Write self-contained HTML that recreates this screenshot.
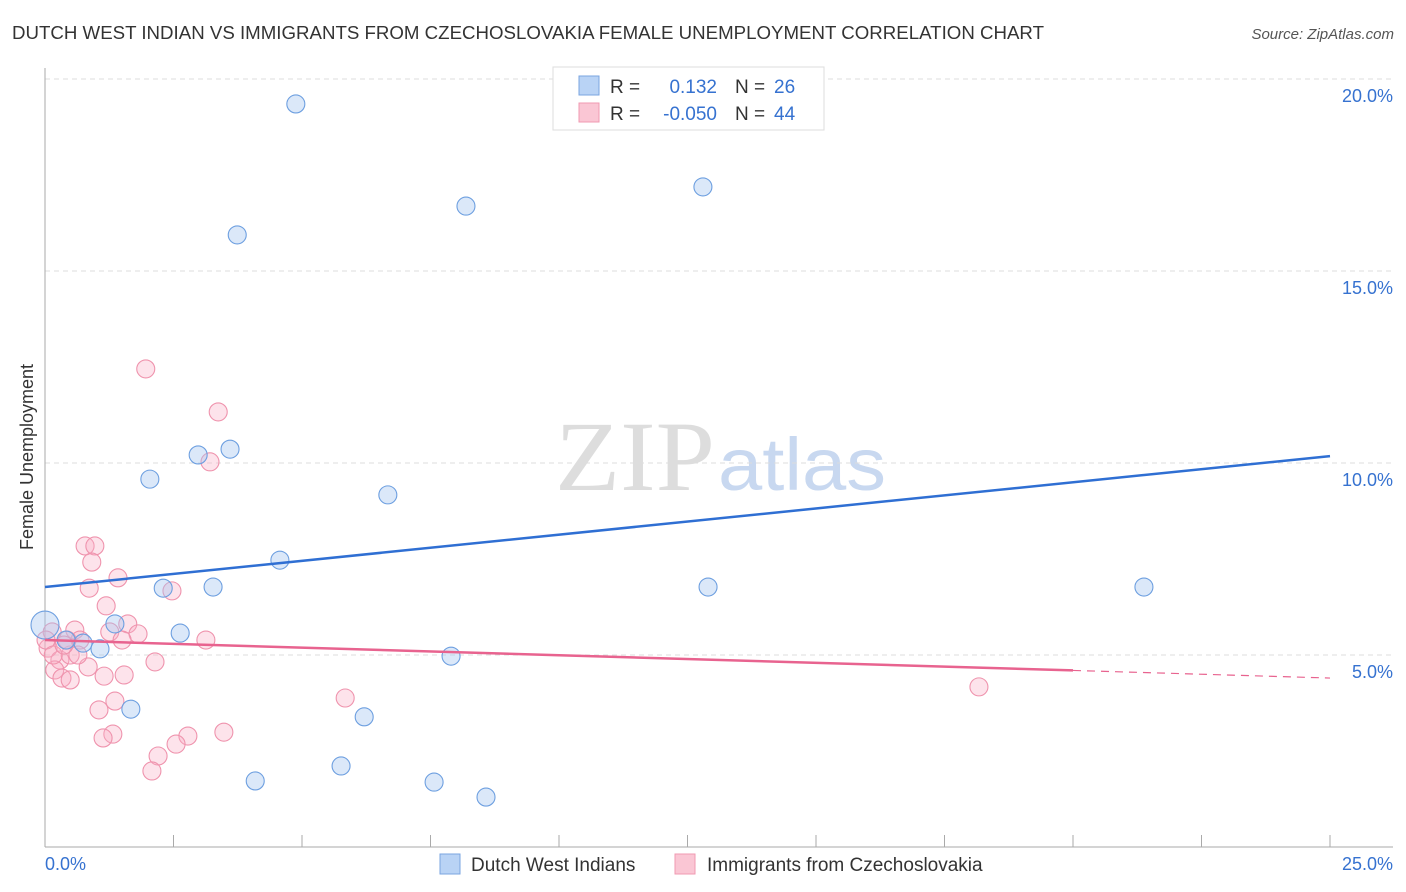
<!DOCTYPE html>
<html><head><meta charset="utf-8"><style>
body{margin:0;background:#fff;font-family:"Liberation Sans",sans-serif;}
svg{display:block}
</style></head><body>
<svg id="chart" width="1406" height="892" viewBox="0 0 1406 892" xmlns="http://www.w3.org/2000/svg">
<text x="12" y="39" font-size="18" fill="#333" textLength="1032" lengthAdjust="spacingAndGlyphs">DUTCH WEST INDIAN VS IMMIGRANTS FROM CZECHOSLOVAKIA FEMALE UNEMPLOYMENT CORRELATION CHART</text>
<text x="1394" y="39" font-size="15" fill="#555" text-anchor="end" font-style="italic">Source: ZipAtlas.com</text>
<text x="555" y="490" font-size="100" fill="#ddd" font-family="Liberation Serif,serif" textLength="160" lengthAdjust="spacingAndGlyphs">ZIP</text>
<text x="718" y="490" font-size="74" fill="#c8d8f0" textLength="168" lengthAdjust="spacingAndGlyphs">atlas</text>
<text transform="translate(33,457) rotate(-90)" font-size="18" fill="#333" text-anchor="middle">Female Unemployment</text>
<g id="grid"></g><g id="pts"></g><g id="lines"></g>
<g>
<rect x="553" y="67" width="271" height="63" fill="#fff" stroke="#ddd"/>
<rect x="579" y="76" width="20" height="19" fill="#b9d3f5" stroke="#7aa5e0"/>
<rect x="579" y="103" width="20" height="19" fill="#fac6d4" stroke="#f09ab2"/>
<text x="610" y="93" font-size="19" fill="#333">R =</text><text x="717" y="93" font-size="19" fill="#3672d0" text-anchor="end">0.132</text>
<text x="735" y="93" font-size="19" fill="#333">N =</text><text x="774" y="93" font-size="19" fill="#3672d0">26</text>
<text x="610" y="120" font-size="19" fill="#333">R =</text><text x="717" y="120" font-size="19" fill="#3672d0" text-anchor="end">-0.050</text>
<text x="735" y="120" font-size="19" fill="#333">N =</text><text x="774" y="120" font-size="19" fill="#3672d0">44</text>
</g>
<g>
<rect x="440" y="854" width="20" height="20" fill="#b9d3f5" stroke="#7aa5e0"/>
<text x="471" y="871" font-size="19" fill="#333">Dutch West Indians</text>
<rect x="675" y="854" width="20" height="20" fill="#fac6d4" stroke="#f09ab2"/>
<text x="707" y="871" font-size="19" fill="#333">Immigrants from Czechoslovakia</text>
</g>
</svg>
<script>
const blueX=[4.88,8.19,12.80,3.74,2.04,2.98,3.60,6.67,4.57,2.30,3.27,12.90,21.38,1.36,2.63,0.74,0.41,1.07,7.90,1.67,6.21,4.09,5.76,7.57,8.58,0.0];
const blueY=[19.35,16.69,17.19,15.94,9.58,10.21,10.36,9.17,7.47,6.74,6.77,6.77,6.77,5.81,5.57,5.31,5.39,5.16,4.97,3.59,3.39,1.72,2.11,1.69,1.30,5.78];
const pinkX=[1.96,3.37,3.21,0.78,0.97,0.91,1.42,0.86,2.47,1.19,1.61,1.26,1.81,1.50,3.13,0.58,0.68,0.14,0.06,2.14,0.84,1.15,1.54,0.29,0.49,0.19,0.33,0.49,5.84,1.36,1.05,1.32,1.13,2.78,2.55,3.48,2.20,2.08,18.17,0.02,0.43,0.16,0.64,0.37];
const pinkY=[12.45,11.33,10.03,7.84,7.84,7.42,7.01,6.74,6.67,6.28,5.81,5.60,5.55,5.39,5.39,5.65,5.39,5.60,5.18,4.82,4.69,4.45,4.48,4.87,5.00,4.61,4.40,4.35,3.88,3.80,3.57,2.94,2.84,2.89,2.68,2.99,2.37,1.98,4.17,5.39,5.39,5.00,5.00,5.26];
const blueTrend=[6.77,10.18];
const pinkTrend=[5.39,4.40];
const yTicks=[5,10,15,20];
const yTickLabels=["5.0%","10.0%","15.0%","20.0%"];
const xTicks=[0,2.5,5,7.5,10,12.5,15,17.5,20,22.5,25];
const NS="http://www.w3.org/2000/svg";
const sx=v=>45+v*51.4, sy=v=>847-v*38.4;
function mk(p,t,a){const e=document.createElementNS(NS,t);for(const k in a)e.setAttribute(k,a[k]);document.getElementById(p).appendChild(e);return e;}
yTicks.forEach((t,i)=>{
 const l=mk('grid','line',{x1:45,x2:1393,y1:sy(t),y2:sy(t),stroke:'#ddd','stroke-dasharray':'5,4'});
 
 
 const tx=mk('grid','text',{x:1393,y:sy(t)+23,'font-size':18,fill:'#3672d0','text-anchor':'end'});
 tx.textContent=yTickLabels[i];
 
 
});
mk('grid','line',{x1:45,x2:1393,y1:sy(0),y2:sy(0),stroke:'#aaa'});
mk('grid','line',{x1:45,x2:45,y1:68,y2:sy(0),stroke:'#aaa'});
xTicks.forEach(t=>{const l=mk('grid','line',{x1:sx(t),x2:sx(t),y1:sy(0),y2:sy(0)-12,stroke:'#aaa'});
 
 });
let a=mk('grid','text',{x:45,y:870,'font-size':18,fill:'#3672d0'});a.textContent='0.0%';


a=mk('grid','text',{x:1393,y:870,'font-size':18,fill:'#3672d0','text-anchor':'end'});a.textContent='25.0%';


pinkX.forEach((x,i)=>{const c=mk('pts','circle',{cx:sx(x),cy:sy(pinkY[i]),r:9,fill:'rgba(248,175,198,0.35)',stroke:'#ef93ad','stroke-width':1.1});
 
 });
blueX.forEach((x,i)=>{const c=mk('pts','circle',{cx:sx(x),cy:sy(blueY[i]),r:i==25?14:9,fill:'rgba(165,198,240,0.4)',stroke:'#6d9fe0','stroke-width':1.1});
 
 });
let b=mk('lines','line',{x1:sx(0),y1:sy(blueTrend[0]),x2:sx(25),y2:sy(blueTrend[1]),stroke:'#2f6fd3','stroke-width':2.5});


const p20=pinkTrend[0]+(pinkTrend[1]-pinkTrend[0])*0.8;
let p=mk('lines','line',{x1:sx(0),y1:sy(pinkTrend[0]),x2:sx(20),y2:sy(p20),stroke:'#e8638f','stroke-width':2.5});


p=mk('lines','line',{x1:sx(20),y1:sy(p20),x2:sx(25),y2:sy(pinkTrend[1]),stroke:'#e8638f','stroke-width':1.2,'stroke-dasharray':'8,6'});


</script>
</body></html>
